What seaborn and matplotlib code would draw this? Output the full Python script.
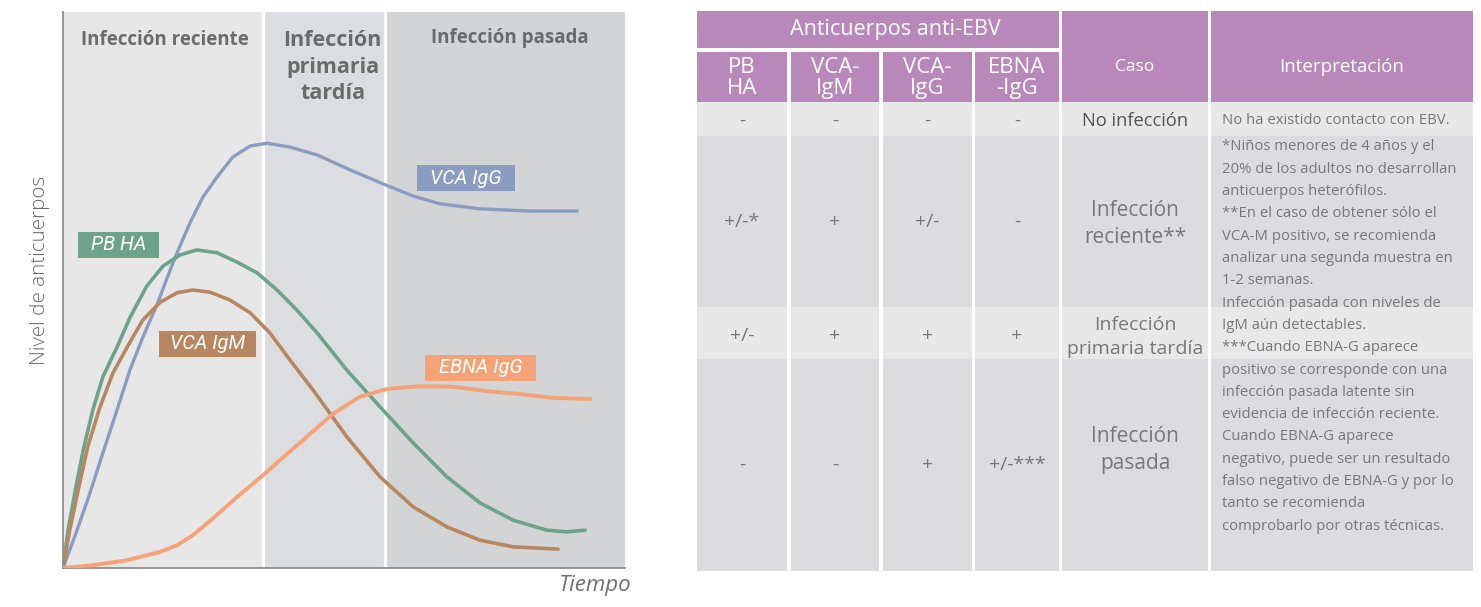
import matplotlib
matplotlib.use("Agg")
import matplotlib.pyplot as plt
from matplotlib.patches import Rectangle
import pandas as pd
import seaborn as sns

# ---- curvas (tiempo 0-100, nivel 0-100) ----
vca_igg_t = [0, 2.5, 4.8, 7.1, 9.6, 11.9, 14.2, 16.7, 19.0, 20.3, 22.6, 24.9, 27.4, 30.2, 33.3, 36.3,
             40.4, 45.2, 51.1, 56.9, 62.3, 67.1, 74.2, 83.1, 91.5]
vca_igg_y = [0, 6.8, 13.5, 20.7, 28.4, 35.6, 41.5, 47.3, 53.4, 56.7, 62.1, 66.7, 70.3, 73.9, 75.9, 76.4,
             75.7, 74.3, 71.6, 69.1, 66.9, 65.5, 64.6, 64.2, 64.2]

pb_ha_t = [0, 0.9, 2.1, 3.6, 5.3, 7.1, 9.6, 11.9, 14.9, 17.8, 20.8, 23.8, 27.4, 31.0, 34.5, 38.1,
           41.6, 45.2, 50.5, 56.4, 62.3, 68.3, 74.2, 80.1, 86.1, 89.7, 92.9]
pb_ha_y = [0, 6.8, 13.5, 21.2, 28.4, 34.4, 39.7, 45.0, 50.7, 54.3, 56.3, 57.2, 56.7, 55.0, 53.1, 50.0,
           46.4, 42.3, 35.6, 29.0, 22.5, 16.4, 11.7, 8.6, 6.8, 6.5, 6.8]

vca_igm_t = [0, 1.2, 2.7, 4.4, 6.6, 8.9, 11.4, 14.2, 17.3, 20.3, 23.1, 26.2, 29.7, 33.3, 36.8, 40.4,
             44.5, 50.5, 56.4, 62.3, 68.3, 74.2, 80.1, 88.1]
vca_igm_y = [0, 6.8, 14.0, 21.8, 29.0, 35.1, 39.7, 44.6, 47.8, 49.5, 50.0, 49.6, 48.2, 45.9, 42.3, 37.4,
             32.0, 23.6, 16.4, 11.0, 7.4, 5.0, 3.8, 3.4]

ebna_igg_t = [0, 5.3, 11.4, 17.3, 20.3, 23.1, 26.2, 31.0, 35.6, 38.6, 43.4, 48.0, 52.8, 57.7, 63.5,
              69.4, 75.4, 81.3, 87.2, 93.8]
ebna_igg_y = [0, 0.5, 1.4, 2.9, 4.1, 5.9, 8.5, 12.8, 16.7, 19.4, 23.6, 27.7, 30.8, 32.2, 32.7,
              32.6, 31.8, 31.3, 30.6, 30.4]

series_names = ["VCA IgG", "PB HA", "VCA IgM", "EBNA IgG"]
series_colors = ["#8a9dc0", "#6ea38b", "#b8865f", "#f5a276"]
label_pos_t = [71.7, 9.9, 25.7, 74.3]
label_pos_y = [70.1, 58.1, 40.3, 36.0]

etapas = ["Infección reciente", "Infección\nprimaria\ntardía", "Infección pasada"]
etapa_limites = [0, 35.6, 57.3, 100]

# ---- tabla ----
cabecera_grupo = "Anticuerpos anti-EBV"
anticuerpos = ["PB\nHA", "VCA-\nIgM", "VCA-\nIgG", "EBNA\n-IgG"]
casos = ["No infección", "Infección\nreciente**", "Infección\nprimaria tardía", "Infección\npasada"]
res_pb_ha = ["-", "+/-*", "+/-", "-"]
res_vca_igm = ["-", "+", "+", "-"]
res_vca_igg = ["-", "+/-", "+", "+"]
res_ebna_igg = ["-", "-", "+", "+/-***"]
interp_no_infeccion = "No ha existido contacto con EBV."
interp_lineas = [
    "*Niños menores de 4 años y el",
    "20% de los adultos no desarrollan",
    "anticuerpos heterófilos.",
    "**En el caso de obtener sólo el",
    "VCA-M positivo, se recomienda",
    "analizar una segunda muestra en",
    "1-2 semanas.",
    "Infección pasada con niveles de",
    "IgM aún detectables.",
    "***Cuando EBNA-G aparece",
    "positivo se corresponde con una",
    "infección pasada latente sin",
    "evidencia de infección reciente.",
    "Cuando EBNA-G aparece",
    "negativo, puede ser un resultado",
    "falso negativo de EBNA-G y por lo",
    "tanto se recomienda",
    "comprobarlo por otras técnicas.",
]

sns.set_style("white")
plt.rcParams["font.family"] = ["Open Sans", "DejaVu Sans"]

W, H = 1481, 607
fig = plt.figure(figsize=(W / 100, H / 100), dpi=100)

# ---------------- tabla (coordenadas en pixeles) ----------------
tab = fig.add_axes([0, 0, 1, 1])
tab.set_xlim(0, W)
tab.set_ylim(H, 0)
tab.axis("off")

purple = "#b988bb"
light = "#e8e8e8"
dark = "#dcdcde"
txt = "#777777"

col_x = [(697, 787), (791, 879), (883, 972), (975, 1059)]
caso_x = (1062, 1208)
interp_x = (1211, 1473)
rows_y = [(102, 136), (136, 307), (307, 359), (359, 571)]
row_cols = [light, dark, light, dark]


def box(x0, x1, y0, y1, c):
    tab.add_patch(Rectangle((x0, y0), x1 - x0, y1 - y0, fc=c, ec="none"))


# cabecera
box(697, 1059, 11, 48, purple)
tab.text(895, 30, cabecera_grupo, ha="center", va="center", color="white", fontsize=15.5)
for (x0, x1), lab in zip(col_x, anticuerpos):
    box(x0, x1, 52, 102, purple)
    tab.text((x0 + x1) / 2, 78, lab, ha="center", va="center", color="white", fontsize=16, linespacing=0.97)
box(caso_x[0], caso_x[1], 11, 102, purple)
tab.text(sum(caso_x) / 2, 67, "Caso", ha="center", va="center", color="white", fontsize=12.5)
box(interp_x[0], interp_x[1], 11, 102, purple)
tab.text(sum(interp_x) / 2, 67, "Interpretación", ha="center", va="center", color="white", fontsize=13.5)

# filas
resultados = [res_pb_ha, res_vca_igm, res_vca_igg, res_ebna_igg]
row_text_y = [121, 222, 336, 465]
caso_text_y = [121, 224, 337, 450]
caso_size = [13.2, 15, 14, 15]
for i, ((y0, y1), c) in enumerate(zip(rows_y, row_cols)):
    for (x0, x1) in col_x + [caso_x, interp_x]:
        box(x0, x1, y0, y1, c)
    for (x0, x1), res in zip(col_x, resultados):
        tab.text((x0 + x1) / 2, row_text_y[i], res[i], ha="center", va="center", color=txt, fontsize=14)
    tab.text(sum(caso_x) / 2, caso_text_y[i], casos[i], ha="center", va="center",
             color="#555555" if i == 0 else txt, fontsize=caso_size[i], linespacing=1.4)

tab.text(1222, 120, interp_no_infeccion, ha="left", va="center", color=txt, fontsize=10.7)
for k, line in enumerate(interp_lineas):
    tab.text(1222, 147 + k * 22.3, line, ha="left", va="center", color=txt, fontsize=10.7)

# ---------------- gráfica ----------------
ax = fig.add_axes([63 / W, 1 - 568 / H, 562 / W, 556 / H])
ax.set_xlim(0, 100)
ax.set_ylim(0, 100)

bg = ["#e7e7e7", "#dcdde0", "#d3d4d6"]
for k in range(3):
    ax.axvspan(etapa_limites[k], etapa_limites[k + 1], color=bg[k], lw=0, zorder=0)
for b in etapa_limites[1:3]:
    ax.axvline(b, color="white", lw=2.3, zorder=1)

df = pd.concat([
    pd.DataFrame({"tiempo": vca_igg_t, "nivel": vca_igg_y, "serie": "VCA IgG"}),
    pd.DataFrame({"tiempo": pb_ha_t, "nivel": pb_ha_y, "serie": "PB HA"}),
    pd.DataFrame({"tiempo": vca_igm_t, "nivel": vca_igm_y, "serie": "VCA IgM"}),
    pd.DataFrame({"tiempo": ebna_igg_t, "nivel": ebna_igg_y, "serie": "EBNA IgG"}),
])
widths = {"VCA IgG": 2.4, "PB HA": 2.6, "VCA IgM": 2.6, "EBNA IgG": 2.8}
for name, col in zip(series_names, series_colors):
    sns.lineplot(data=df[df["serie"] == name], x="tiempo", y="nivel", color=col, lw=widths[name],
                 sort=False, estimator=None, ax=ax, zorder=3, solid_capstyle="round", solid_joinstyle="round")

box_w = {"VCA IgG": 17.4, "PB HA": 14.4, "VCA IgM": 17.4, "EBNA IgG": 19.6}
box_h = 4.6
for name, col, tx, ty in zip(series_names, series_colors, label_pos_t, label_pos_y):
    ax.add_patch(Rectangle((tx - box_w[name] / 2, ty - box_h / 2), box_w[name], box_h, fc=col, ec="none", zorder=4))
    ax.text(tx, ty, name, ha="center", va="center", color="white", fontsize=14.3, style="italic",
            family=["Roboto", "DejaVu Sans"], zorder=5)

title_col = "#6b6b6b"
ax.text(18.1, 95.0, etapas[0], ha="center", va="center", color=title_col, fontsize=13.5, weight="bold")
for j, part in enumerate(etapas[1].split("\n")):
    ax.text(48.0, 94.8 - j * 4.7, part, ha="center", va="center", color=title_col, fontsize=15.5, weight="bold")
ax.text(79.5, 95.3, etapas[2], ha="center", va="center", color=title_col, fontsize=13.5, weight="bold")

ax.set_xticks([])
ax.set_yticks([])
ax.set_xlabel("")
ax.set_ylabel("")
for s in ["top", "right"]:
    ax.spines[s].set_visible(False)
for s in ["left", "bottom"]:
    ax.spines[s].set_color("#8e8e8e")
    ax.spines[s].set_linewidth(1.3)

fig.text(40 / W, 1 - 270 / H, "Nivel de anticuerpos", rotation=90, ha="center", va="center",
         color="#6a6a6a", fontsize=14.8, weight="light")
fig.text(632 / W, 1 - 585 / H, "Tiempo", ha="right", va="center", color="#707070", fontsize=16, style="italic")

fig.savefig("out.png", dpi=100)
